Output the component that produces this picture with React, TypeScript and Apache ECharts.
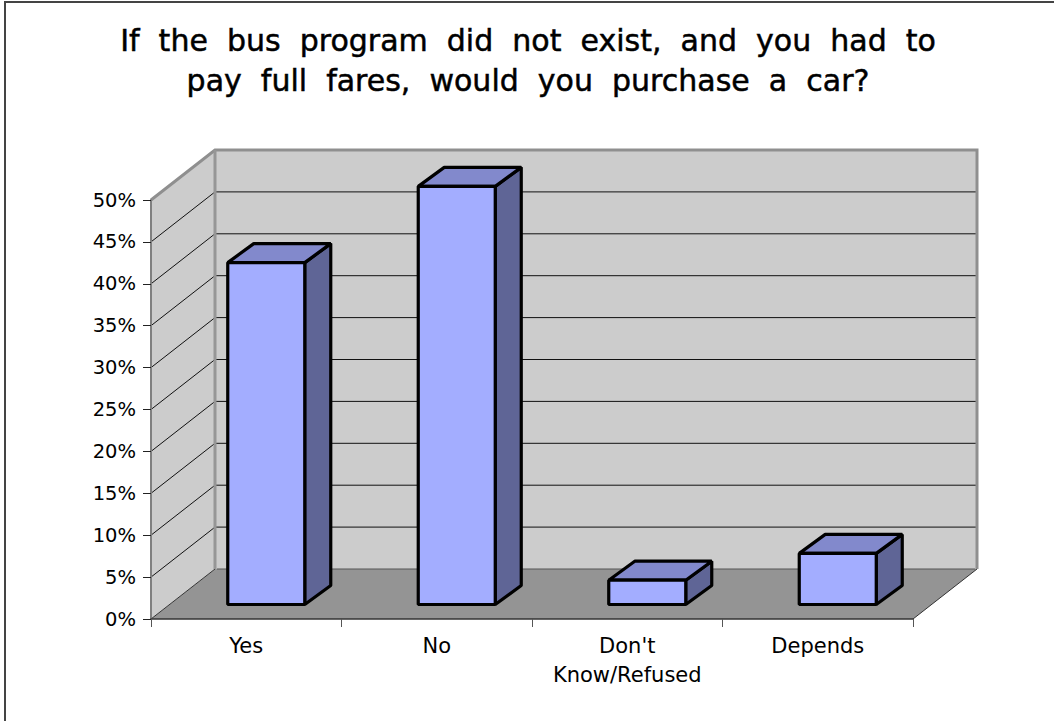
import React, { useEffect, useRef } from "react";
import * as echarts from "echarts";

const categories = ["Yes", "No", "Don't\nKnow/Refused", "Depends"];
const values = [40.8, 49.9, 2.9, 6.1];
const gridTicks = [5, 10, 15, 20, 25, 30, 35, 40, 45];
const titleText = "If  the  bus  program  did  not  exist,  and  you  had  to\npay  full  fares,  would  you  purchase  a  car?";

const DEPTH = { x: 64, y: -50 };
const BAR = { dx: 20, dy: -14.5, width: 77, depthX: 26, depthY: -19 };
const FONT = "'DejaVu Sans', sans-serif";

export default function App() {
  const ref = useRef<HTMLDivElement>(null);
  useEffect(() => {
    document.body.style.margin = "0";
    document.body.style.overflow = "hidden";
    const chart = echarts.init(ref.current!, undefined, { renderer: "svg" });
    chart.setOption({
      animation: false,
      backgroundColor: "#ffffff",
      title: {
        text: titleText,
        left: 523,
        top: 15,
        textAlign: "center",
        textStyle: { fontFamily: FONT, fontSize: 30, fontWeight: "normal", color: "#000", lineHeight: 40, textBorderColor: "#000", textBorderWidth: 0.5 },
      },
      grid: { left: 151, top: 200, width: 762, height: 419 },
      xAxis: {
        type: "category",
        z: 6,
        data: categories,
        axisLine: { show: true, lineStyle: { color: "#333333", width: 1.5 } },
        axisTick: { show: true, interval: 0, length: 8, lineStyle: { color: "#555555", width: 1 } },
        axisLabel: { interval: 0, fontFamily: FONT, fontSize: 21, color: "#000", margin: 12, lineHeight: 29 },
      },
      yAxis: {
        type: "value",
        z: 6,
        min: 0,
        max: 50,
        interval: 5,
        axisLine: { show: true, lineStyle: { color: "#808080", width: 2 } },
        axisTick: { show: true, length: 8, lineStyle: { color: "#222222", width: 1 } },
        splitLine: { show: false },
        axisLabel: { fontFamily: FONT, fontSize: 19.5, color: "#000", margin: 15, formatter: "{value}%" },
      },
      series: [
        {
          type: "custom",
          z: 1,
          silent: true,
          data: [0],
          encode: { x: -1, y: -1 },
          renderItem: (params: any, api: any) => {
            const c = params.coordSys;
            const base = api.coord([0, 0])[1];
            const top = api.coord([0, 50])[1];
            const l = c.x, r = c.x + c.width;
            const children: any[] = [
              { type: "polygon", shape: { points: [[l, base], [r, base], [r + DEPTH.x, base + DEPTH.y], [l + DEPTH.x, base + DEPTH.y]] }, style: { fill: "#949494" } },
              { type: "polygon", shape: { points: [[l, base], [l + DEPTH.x, base + DEPTH.y], [l + DEPTH.x, top + DEPTH.y], [l, top]] }, style: { fill: "#cccccc" } },
              { type: "rect", shape: { x: l + DEPTH.x, y: top + DEPTH.y, width: c.width, height: base - top }, style: { fill: "#cccccc" } },
            ];
            for (const v of gridTicks) {
              const y = api.coord([0, v])[1];
              children.push(
                { type: "polyline", shape: { points: [[l, y], [l + DEPTH.x, y + DEPTH.y], [r + DEPTH.x, y + DEPTH.y]] }, style: { fill: "none", stroke: "#111111", lineWidth: 1 } },
              );
            }
            children.push(
              { type: "line", shape: { x1: l, y1: base, x2: l + DEPTH.x, y2: base + DEPTH.y }, style: { stroke: "#333333", lineWidth: 1 } },
              { type: "line", shape: { x1: r, y1: base, x2: r + DEPTH.x, y2: base + DEPTH.y }, style: { stroke: "#333333", lineWidth: 1 } },
              { type: "line", shape: { x1: l + DEPTH.x + 2, y1: base + DEPTH.y, x2: r + DEPTH.x - 2, y2: base + DEPTH.y }, style: { stroke: "#555555", lineWidth: 1 } },
              { type: "polyline", shape: { points: [[l, top], [l + DEPTH.x, top + DEPTH.y], [r + DEPTH.x, top + DEPTH.y], [r + DEPTH.x, base + DEPTH.y]] }, style: { fill: "none", stroke: "#8f8f8f", lineWidth: 3 } },
              { type: "line", shape: { x1: l + DEPTH.x, y1: top + DEPTH.y, x2: l + DEPTH.x, y2: base + DEPTH.y }, style: { stroke: "#969696", lineWidth: 3 } },
            );
            return { type: "group", children };
          },
        },
        {
          type: "custom",
          z: 3,
          silent: true,
          data: values.map((v, i) => [i, v]),
          encode: { x: 0, y: 1 },
          renderItem: (params: any, api: any) => {
            const center = api.coord([api.value(0), 0]);
            const topPt = api.coord([api.value(0), api.value(1)]);
            const x0 = center[0] + BAR.dx - BAR.width / 2;
            const x1 = x0 + BAR.width;
            const yB = center[1] + BAR.dy;
            const yT = topPt[1] + BAR.dy;
            const dx = BAR.depthX, dy = BAR.depthY;
            const line = { stroke: "#000000", lineWidth: 3.2, lineJoin: "bevel" };
            return {
              type: "group",
              children: [
                { type: "polygon", shape: { points: [[x1, yB], [x1 + dx, yB + dy], [x1 + dx, yT + dy], [x1, yT]] }, style: { fill: "#5f6596", ...line } },
                { type: "polygon", shape: { points: [[x0, yT], [x1, yT], [x1 + dx, yT + dy], [x0 + dx, yT + dy]] }, style: { fill: "#8289cc", ...line } },
                { type: "rect", shape: { x: x0, y: yT, width: BAR.width, height: yB - yT }, style: { fill: "#a3adff", ...line } },
              ],
            };
          },
        },
      ],
      graphic: [
        { type: "line", shape: { x1: 5, y1: 1, x2: 5, y2: 721 }, style: { stroke: "#444444", lineWidth: 2 }, silent: true },
        { type: "line", shape: { x1: 4, y1: 2, x2: 1054, y2: 2 }, style: { stroke: "#444444", lineWidth: 2 }, silent: true },
      ],
    });
    return () => chart.dispose();
  }, []);
  return <div ref={ref} style={{ width: 1054, height: 721 }} />;
}
